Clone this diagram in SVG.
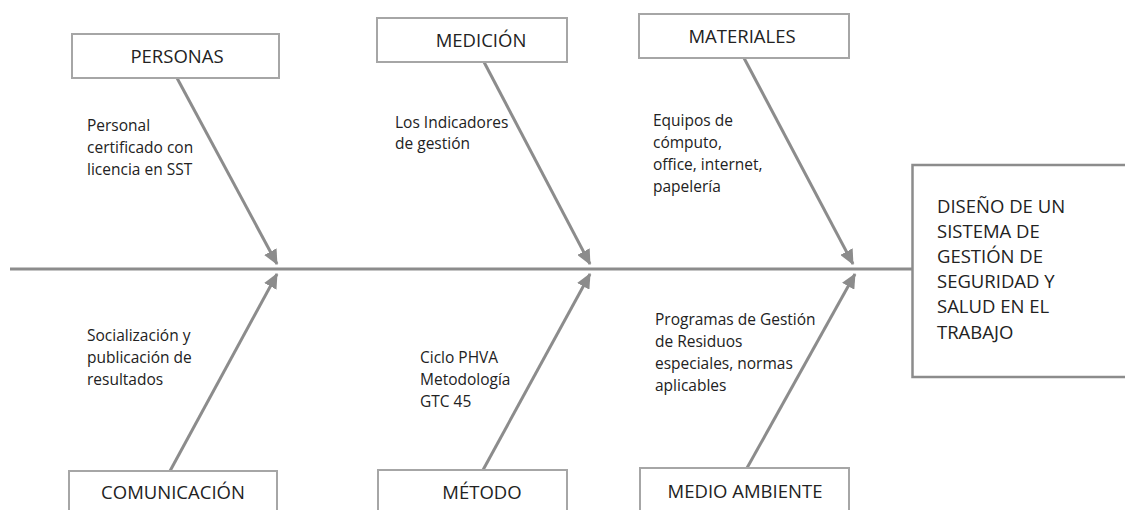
<svg xmlns="http://www.w3.org/2000/svg" width="1125" height="510" viewBox="0 0 1125 510">
<style>
.box{fill:#fff;stroke:#a6a6a6;stroke-width:2}
.title{font-family:"Open Sans","Liberation Sans",sans-serif;font-size:18.5px;fill:#222;text-anchor:middle}
.lbl{font-family:"Open Sans","Liberation Sans",sans-serif;font-size:15.5px;fill:#222}
.big{font-family:"Open Sans","Liberation Sans",sans-serif;font-size:18.5px;fill:#222}
.arr{stroke:#8c8c8c;stroke-width:3;fill:none;marker-end:url(#ah)}
</style>
<defs>
<marker id="ah" markerUnits="userSpaceOnUse" markerWidth="16" markerHeight="14" refX="14" refY="7" orient="auto">
<path d="M0,0 L15,7 L0,14 Z" fill="#8c8c8c"/>
</marker>
</defs>
<rect width="1125" height="510" fill="#fff"/>
<g id="connectors">
<line x1="10" y1="269" x2="912" y2="269" stroke="#8c8c8c" stroke-width="3"/>
<line class="arr" x1="177" y1="78" x2="277" y2="264"/>
<line class="arr" x1="484" y1="62" x2="590" y2="264"/>
<line class="arr" x1="744" y1="58" x2="853" y2="264"/>
<line class="arr" x1="170" y1="471" x2="277" y2="274"/>
<line class="arr" x1="483" y1="470" x2="590" y2="274"/>
<line class="arr" x1="747" y1="468" x2="855" y2="274"/>
</g>
<g id="personas">
<rect class="box" x="72" y="34" width="207" height="44"/>
<text class="title" x="177" y="63">PERSONAS</text>
<text class="lbl" x="87" y="131">Personal</text>
<text class="lbl" x="87" y="153">certificado con</text>
<text class="lbl" x="87" y="175">licencia en SST</text>
</g>
<g id="medicion">
<rect class="box" x="377" y="18" width="190" height="44"/>
<text class="title" x="481" y="47">MEDICIÓN</text>
<text class="lbl" x="395" y="128">Los Indicadores</text>
<text class="lbl" x="395" y="149">de gestión</text>
</g>
<g id="materiales">
<rect class="box" x="639" y="14" width="210" height="44"/>
<text class="title" x="742" y="43">MATERIALES</text>
<text class="lbl" x="653" y="126">Equipos de</text>
<text class="lbl" x="653" y="148">cómputo,</text>
<text class="lbl" x="653" y="170">office, internet,</text>
<text class="lbl" x="653" y="192">papelería</text>
</g>
<g id="comunicacion">
<rect class="box" x="69" y="471" width="208" height="50"/>
<text class="title" x="173" y="499">COMUNICACIÓN</text>
<text class="lbl" x="87" y="341">Socialización y</text>
<text class="lbl" x="87" y="363">publicación de</text>
<text class="lbl" x="87" y="385">resultados</text>
</g>
<g id="metodo">
<rect class="box" x="378" y="470" width="189" height="50"/>
<text class="title" x="482" y="499">MÉTODO</text>
<text class="lbl" x="420" y="363">Ciclo PHVA</text>
<text class="lbl" x="420" y="385">Metodología</text>
<text class="lbl" x="420" y="407">GTC 45</text>
</g>
<g id="medio-ambiente">
<rect class="box" x="640" y="468" width="209" height="50"/>
<text class="title" x="745" y="498">MEDIO AMBIENTE</text>
<text class="lbl" x="655" y="325">Programas de Gestión</text>
<text class="lbl" x="655" y="347">de Residuos</text>
<text class="lbl" x="655" y="369">especiales, normas</text>
<text class="lbl" x="655" y="391">aplicables</text>
</g>
<g id="efecto">
<rect x="912.5" y="165" width="220" height="212" fill="#fff" stroke="#8c8c8c" stroke-width="2.5"/>
<text class="big" x="937" y="213">DISEÑO DE UN</text>
<text class="big" x="937" y="238">SISTEMA DE</text>
<text class="big" x="937" y="263">GESTIÓN DE</text>
<text class="big" x="937" y="288">SEGURIDAD Y</text>
<text class="big" x="937" y="313">SALUD EN EL</text>
<text class="big" x="937" y="339">TRABAJO</text>
</g>
</svg>
